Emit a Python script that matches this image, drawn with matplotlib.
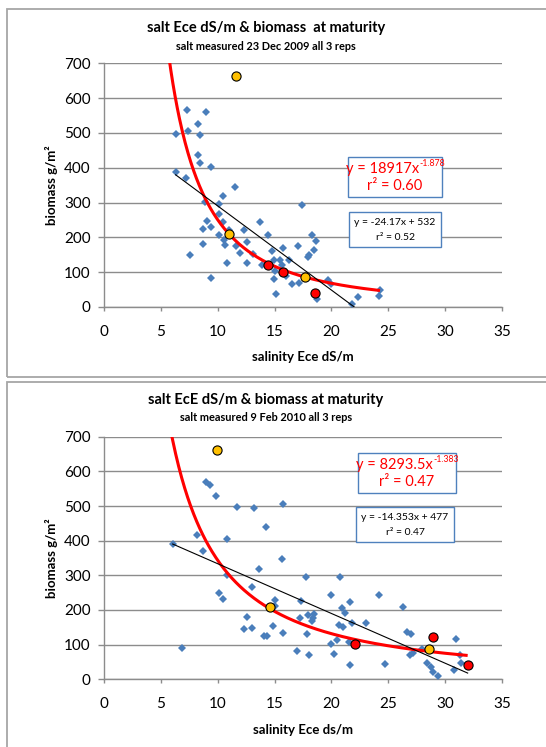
import numpy as np
import matplotlib
matplotlib.use("Agg")
import matplotlib.pyplot as plt
from matplotlib.patches import Rectangle

plt.rcParams['font.family'] = ['Lato', 'DejaVu Sans']

# ---------------- data: top chart (23 Dec 2009) ----------------
top_x = [6.30, 6.30, 7.30, 7.42, 7.21, 7.53, 8.30, 8.97, 8.41, 8.27, 8.47, 9.38,
         8.91, 9.09, 8.74, 9.38, 8.74, 9.38, 10.11, 10.50, 11.55, 10.14, 10.50,
         10.14, 10.55, 10.67, 11.02, 10.79, 11.64, 11.96, 12.28, 12.55, 12.61,
         13.08, 13.69, 13.93, 14.39, 14.81, 14.98, 15.07, 14.98, 15.10, 15.74,
         15.48, 15.66, 15.98, 16.24, 16.53, 17.03, 17.15, 17.44, 18.32, 18.44,
         18.06, 17.97, 18.62, 18.73, 19.70, 19.94, 21.81, 22.31, 24.27, 24.16]
top_y = [497, 389, 566, 505, 370, 149, 525, 560, 493, 437, 413, 403,
         301, 247, 225, 230, 182, 82, 297, 318, 345, 266, 244,
         208, 192, 177, 222, 125, 175, 156, 222, 187, 125,
         153, 244, 122, 208, 162, 134, 104, 81, 38, 170,
         134, 120, 90, 136, 67, 174, 69, 294, 206, 163,
         149, 144, 189, 23, 77, 65, 10, 29, 50, 31]
top_red_x = [14.45, 15.77, 18.56]
top_red_y = [120, 101, 41]
top_orange_x = [11.61, 10.99, 17.71]
top_orange_y = [664, 211, 86]
top_pow_a, top_pow_b, top_pow_r2 = 18917, -1.878, 0.60
top_lin_m, top_lin_c, top_lin_r2 = -24.17, 532, 0.52

# ---------------- data: bottom chart (9 Feb 2010) ----------------
bot_x = [6.04, 6.86, 8.15, 8.74, 8.94, 9.32, 9.85, 11.67, 10.82, 10.14, 10.50,
         10.79, 13.22, 14.22, 15.74, 15.63, 13.66, 13.05, 12.61, 12.34, 13.02,
         14.07, 14.31, 15.04, 15.04, 14.89, 15.74, 17.01, 17.24, 17.30, 17.74,
         17.82, 17.97, 18.03, 18.32, 18.41, 18.47, 19.96, 19.96, 20.23, 20.46,
         20.64, 20.76, 20.93, 20.99, 21.23, 21.64, 21.64, 21.81, 21.58, 23.04,
         24.21, 24.71, 26.33, 26.68, 27.00, 26.92, 27.21, 28.00, 28.44, 28.76,
         28.96, 29.40, 30.97, 30.76, 31.30, 31.40]
bot_y = [390, 91, 415, 370, 569, 562, 529, 498, 405, 250, 232,
         301, 495, 440, 507, 346, 319, 265, 179, 146, 147,
         125, 125, 229, 212, 154, 133, 82, 176, 226, 296,
         132, 186, 69, 169, 176, 188, 244, 101, 73, 113,
         157, 296, 207, 152, 190, 224, 40, 163, 107, 162,
         244, 45, 210, 137, 131, 69, 77, 87, 48, 35,
         22, 10, 115, 27, 69, 48]
bot_red_x = [22.10, 28.96, 31.98]
bot_red_y = [101, 121, 41]
bot_orange_x = [9.94, 14.60, 28.55]
bot_orange_y = [663, 210, 87]
bot_pow_a, bot_pow_b, bot_pow_r2 = 8293.5, -1.383, 0.47
bot_lin_m, bot_lin_c, bot_lin_r2 = -14.353, 477, 0.47

x_ticks = [0, 5, 10, 15, 20, 25, 30, 35]
y_ticks = [0, 100, 200, 300, 400, 500, 600, 700]

W, H = 546, 747
fig = plt.figure(figsize=(W / 100, H / 100), dpi=100)
renderer = fig.canvas.get_renderer()

BLUE = '#4A7EBB'
GRID = '#8C8C8C'
BOXEDGE = '#4F81BD'
AX_L, AX_R = 104, 502


def fx(px):
    return px / W


def fy(py):
    return 1 - py / H


def panel(top_px, bot_px):
    r = Rectangle((fx(7), fy(bot_px)), 1.2, fy(top_px) - fy(bot_px),
                  transform=fig.transFigure, fill=False, edgecolor='#A6A6A6',
                  linewidth=1.3, zorder=0)
    fig.patches.append(r)


def box(x0, y0, x1, y1, edge):
    r = Rectangle((fx(x0), fy(y1)), fx(x1) - fx(x0), fy(y0) - fy(y1),
                  transform=fig.transFigure, facecolor='white', edgecolor=edge,
                  linewidth=1.0, zorder=5)
    fig.patches.append(r)


def text_width_px(s, size):
    t = fig.text(0, 0, s, fontsize=size)
    w = t.get_window_extent(renderer).width
    t.remove()
    return w


def pow_box(x0, y0, x1, y1, a, b, r2, size, exp_size):
    box(x0, y0, x1, y1, BOXEDGE)
    hh = y1 - y0
    main = 'y = %gx' % a
    expo = '%g' % b
    wm = text_width_px(main, size)
    we = text_width_px(expo, exp_size)
    cx = (x0 + x1) / 2
    start = cx - (wm + we) / 2
    yb = y0 + hh * 0.30
    fig.text(fx(start), fy(yb), main, color='#FF0000', fontsize=size,
             ha='left', va='center', zorder=6)
    fig.text(fx(start + wm + 0.5), fy(yb - 5), expo, color='#FF0000',
             fontsize=exp_size, ha='left', va='center', zorder=6)
    fig.text(fx(cx), fy(y0 + hh * 0.72), 'r² = %.2f' % r2, color='#FF0000',
             fontsize=size, ha='center', va='center', zorder=6)


def lin_box(x0, y0, x1, y1, m, c, r2, size):
    box(x0, y0, x1, y1, BOXEDGE)
    hh = y1 - y0
    cx = fx((x0 + x1) / 2)
    fig.text(cx, fy(y0 + hh * 0.30), 'y = %gx + %g' % (m, c), color='black',
             fontsize=size, ha='center', va='center', zorder=6)
    fig.text(cx, fy(y0 + hh * 0.72), 'r² = %.2f' % r2, color='black',
             fontsize=size, ha='center', va='center', zorder=6)


def make_axes(ax_top_px, ax_bot_px):
    ax = fig.add_axes([fx(AX_L), fy(ax_bot_px), fx(AX_R) - fx(AX_L),
                       fy(ax_top_px) - fy(ax_bot_px)])
    ax.set_xlim(0, 35)
    ax.set_ylim(0, 700)
    ax.set_xticks(x_ticks)
    ax.set_yticks(y_ticks)
    ax.yaxis.grid(True, color=GRID, linewidth=1.0)
    ax.set_axisbelow(True)
    for s in ['top', 'right']:
        ax.spines[s].set_visible(False)
    for s in ['left', 'bottom']:
        ax.spines[s].set_color(GRID)
        ax.spines[s].set_linewidth(1.0)
    ax.tick_params(axis='x', colors=GRID, length=3, width=1.0, pad=10,
                   labelcolor='black', labelsize=11)
    ax.tick_params(axis='y', colors=GRID, length=4.5, width=1.0, pad=5,
                   labelcolor='black', labelsize=11)
    return ax


def draw(ax, xs, ys, rx, ry, ox, oy, a, b, m, c, pow_x1):
    ax.plot(xs, ys, linestyle='none', marker='D', markersize=4.5,
            color=BLUE, markeredgewidth=0, zorder=3)
    xp = np.linspace(5.5, pow_x1, 300)
    ax.plot(xp, a * xp ** b, color='#FF0000', linewidth=2.2, zorder=4,
            solid_capstyle='butt')
    xl0 = min(xs)
    xl1 = min(pow_x1, -c / m)
    xl = np.array([xl0, xl1])
    ax.plot(xl, m * xl + c, color='black', linewidth=0.8, zorder=4)
    ax.plot(ox, oy, linestyle='none', marker='o', markersize=6.6,
            markerfacecolor='#FFC000', markeredgecolor='black',
            markeredgewidth=0.8, zorder=6)
    ax.plot(rx, ry, linestyle='none', marker='o', markersize=6.6,
            markerfacecolor='#FF0000', markeredgecolor='black',
            markeredgewidth=0.8, zorder=6)


# ---------- top panel ----------
panel(9.3, 376.7)
ax1 = make_axes(63.3, 307.0)
draw(ax1, top_x, top_y, top_red_x, top_red_y, top_orange_x, top_orange_y,
     top_pow_a, top_pow_b, top_lin_m, top_lin_c, max(top_x))
fig.text(fx(266), fy(28), 'salt Ece dS/m & biomass  at maturity',
         fontsize=10.5, fontweight='bold', ha='center', va='center')
fig.text(fx(266), fy(46), 'salt measured 23 Dec 2009 all 3 reps',
         fontsize=7.9, fontweight='bold', ha='center', va='center')
fig.text(fx(303), fy(357.3), 'salinity Ece dS/m', fontsize=9.5,
         fontweight='bold', ha='center', va='center')
fig.text(fx(52), fy(185), 'biomass g/m²', fontsize=9.5, fontweight='bold',
         ha='center', va='center', rotation=90)
pow_box(348, 157, 442, 197, top_pow_a, top_pow_b, top_pow_r2, 10.5, 6.3)
lin_box(349, 212, 441, 247, top_lin_m, top_lin_c, top_lin_r2, 7.5)

# ---------- bottom panel ----------
panel(381.7, 760)
ax2 = make_axes(436.7, 679.3)
draw(ax2, bot_x, bot_y, bot_red_x, bot_red_y, bot_orange_x, bot_orange_y,
     bot_pow_a, bot_pow_b, bot_lin_m, bot_lin_c, max(bot_red_x))
fig.text(fx(266), fy(400), 'salt EcE dS/m & biomass at maturity',
         fontsize=10.5, fontweight='bold', ha='center', va='center')
fig.text(fx(266), fy(417.7), 'salt measured 9 Feb 2010 all 3 reps',
         fontsize=7.9, fontweight='bold', ha='center', va='center')
fig.text(fx(303), fy(730), 'salinity Ece ds/m', fontsize=9.5,
         fontweight='bold', ha='center', va='center')
fig.text(fx(52), fy(558), 'biomass g/m²', fontsize=9.5, fontweight='bold',
         ha='center', va='center', rotation=90)
pow_box(358, 453, 456, 493, bot_pow_a, bot_pow_b, bot_pow_r2, 10.5, 6.3)
lin_box(356, 507, 454, 542, bot_lin_m, bot_lin_c, bot_lin_r2, 7.5)

fig.savefig('out.png', dpi=100)
